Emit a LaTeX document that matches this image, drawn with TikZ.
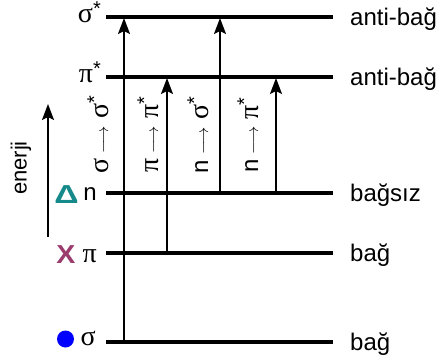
\documentclass[tikz,border=0pt]{standalone}
\usepackage{fontspec}
\setmainfont{Liberation Sans}
\newfontfamily\grkfont{Liberation Serif}
\newcommand{\gk}[1]{{\grkfont\fontsize{28}{30}\selectfont #1}}
\newcommand{\st}{\raisebox{7pt}{\fontsize{20}{20}\selectfont *}}
\usetikzlibrary{arrows.meta}
\definecolor{tealmark}{HTML}{168A8A}
\definecolor{plummark}{HTML}{9B3B6E}
\definecolor{bluemark}{HTML}{0000FF}
\newcommand{\trarrow}{\hspace{5pt}{\fontsize{18}{20}\selectfont$\longrightarrow$}\hspace{7pt}}
\begin{document}
\begin{tikzpicture}[x=1pt,y=-1pt,
  level/.style={line width=3.5pt},
  trans/.style={line width=1.8pt,-{Stealth[length=16pt,width=12pt,inset=3pt]}},
  lab/.style={font=\fontsize{24}{28}\selectfont, inner sep=0pt},
  rlab/.style={lab,anchor=base west},
  llab/.style={lab,anchor=base east},
  tlab/.style={font=\fontsize{24}{28}\selectfont, rotate=90, inner sep=0pt, anchor=base},
  symb/.style={font=\fontsize{26}{30}\selectfont\bfseries, inner sep=0pt}]
\useasboundingbox (0,0) rectangle (439,356);
% level end points
\foreach \n/\y in {ss/17,pp/77,n/193,p/253,s/342}{
  \coordinate (\n L) at (106,\y);
  \coordinate (\n R) at (333,\y);
}
\draw[level] (ssL) -- (ssR);
\draw[level] (ppL) -- (ppR);
\draw[level] (nL) -- (nR);
\draw[level] (pL) -- (pR);
\draw[level] (sL) -- (sR);
% transition end points
\coordinate (t1a) at (124,342); \coordinate (t1b) at (124,18);
\coordinate (t2a) at (167,253); \coordinate (t2b) at (167,78);
\coordinate (t3a) at (220,193); \coordinate (t3b) at (220,18);
\coordinate (t4a) at (276,193); \coordinate (t4b) at (276,78);
\draw[trans] (t1a) -- (t1b);
\draw[trans] (t2a) -- (t2b);
\draw[trans] (t3a) -- (t3b);
\draw[trans] (t4a) -- (t4b);
% transition labels
\node[tlab] (l1) at (108,135) {\gk{σ}\trarrow\gk{σ}\st};
\node[tlab] (l2) at (158,135) {\gk{π}\trarrow\gk{π}\st};
\node[tlab] (l3) at (208,135) {n\trarrow\gk{σ}\st};
\node[tlab] (l4) at (258,135) {n\trarrow\gk{π}\st};
% right labels
\node[rlab] (r1) at (350,25) {anti-bağ};
\node[rlab] (r2) at (350,85) {anti-bağ};
\node[rlab] (r3) at (350,201) {bağsız};
\node[rlab] (r4) at (350,261) {bağ};
\node[rlab] (r5) at (350,350) {bağ};
% left labels
\node[llab] (q1) at (101,23) {\gk{σ}\st};
\node[llab] (q2) at (101,82) {\gk{π}\st};
\node[llab] (q3) at (97,200) {n};
\node[llab] (q4) at (97,262) {\gk{π}};
\node[llab] (q5) at (96,345) {\gk{σ}};
\node[symb,text=tealmark] (m1) at (66.5,194.5) {\scalebox{1.3}[1]{Δ}};
\node[symb,text=plummark] (m2) at (66,255) {\scalebox{1.1}[1]{X}};
\node[circle,fill=bluemark,minimum size=17pt,inner sep=0pt] (m3) at (65.5,339) {};
% energy axis
\coordinate (e1) at (48,237);
\coordinate (e2) at (48,104);
\draw[trans] (e1) -- (e2);
\node[font=\fontsize{22}{26}\selectfont, rotate=90, inner sep=0pt] (en) at (21,168) {enerji};
\end{tikzpicture}
\end{document}
